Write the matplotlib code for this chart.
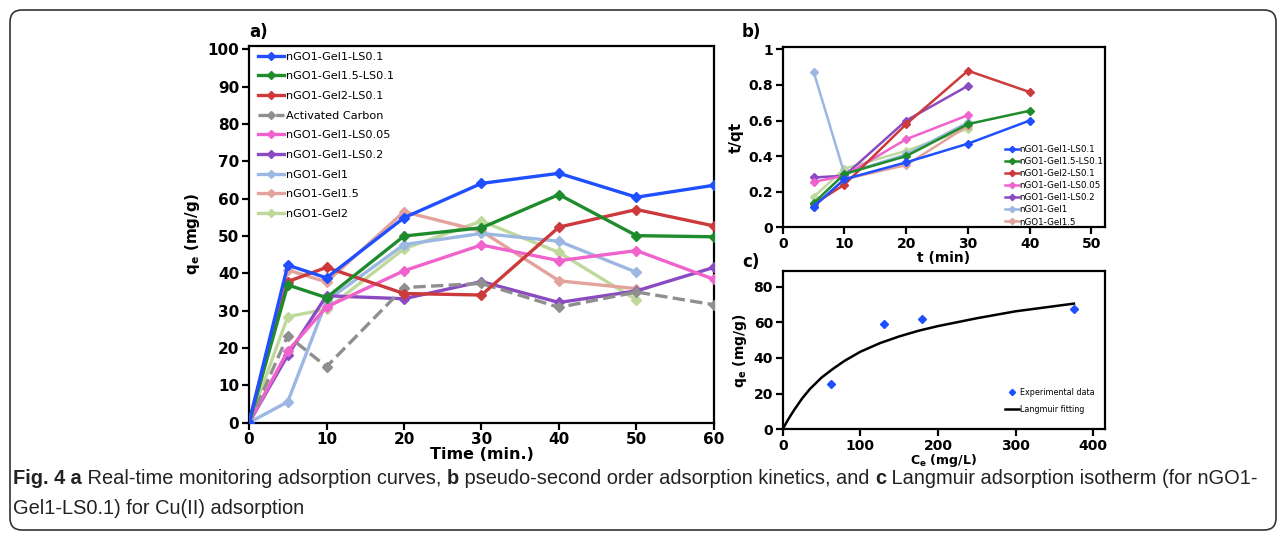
import numpy as np
import matplotlib
matplotlib.use("Agg")
import matplotlib.pyplot as plt
from matplotlib.patches import FancyBboxPatch

plt.rcParams["font.family"] = ["DejaVu Sans"]
plt.rcParams["mathtext.fontset"] = "custom"
plt.rcParams["mathtext.bf"] = "DejaVu Sans:bold"
plt.rcParams["mathtext.rm"] = "DejaVu Sans"

# ---- panel a: real-time adsorption ----
t_a = [0, 5, 10, 20, 30, 40, 50, 60]
t_a_short = [0, 5, 10, 20, 30, 40, 50]
q_gel1_ls01 = [0, 42.2, 38.8, 54.9, 64.1, 66.8, 60.4, 63.6]
q_gel15_ls01 = [0, 36.9, 33.5, 50.0, 52.2, 61.1, 50.1, 49.8]
q_gel2_ls01 = [0, 37.8, 41.6, 34.6, 34.2, 52.4, 57.1, 52.7]
q_carbon = [0, 23.3, 15.0, 36.2, 37.3, 30.9, 35.0, 31.6]
q_gel1_ls005 = [0, 19.2, 31.0, 40.7, 47.6, 43.4, 46.1, 38.4]
q_gel1_ls02 = [0, 18.1, 34.0, 33.2, 37.8, 32.2, 35.3, 41.6]
q_gel1 = [0, 5.6, 32.6, 47.7, 50.7, 48.6, 40.3]
q_gel15 = [0, 40.9, 37.7, 56.5, 51.3, 38.0, 35.9]
q_gel2 = [0, 28.4, 30.4, 46.6, 54.0, 45.6, 32.9]

# ---- panel b: pseudo-second order ----
t_b = [5, 10, 20, 30, 40]
t_b_short = [5, 10, 20, 30]
tq_gel1_ls01 = [0.116, 0.27, 0.365, 0.47, 0.60]
tq_gel15_ls01 = [0.135, 0.30, 0.40, 0.58, 0.655]
tq_gel2_ls01 = [0.13, 0.24, 0.58, 0.88, 0.76]
tq_gel1_ls005 = [0.255, 0.29, 0.495, 0.63]
tq_gel1_ls02 = [0.28, 0.29, 0.60, 0.795]
tq_gel1 = [0.875, 0.30, 0.41, 0.59]
tq_gel15 = [0.115, 0.27, 0.35, 0.57]
tq_gel2 = [0.17, 0.33, 0.43, 0.555]

# ---- panel c: Langmuir isotherm ----
ce_exp = [62, 130, 180, 375]
qe_exp = [25.5, 59.0, 62.0, 67.5]
ce_fit = [0, 5, 10, 15, 25, 35, 50, 65, 80, 100, 125, 150, 175, 200, 250, 300, 375]
qe_fit = [0, 4.0, 7.6, 11.0, 17.3, 22.6, 29.0, 34.0, 38.5, 43.5, 48.3, 52.1, 55.3, 57.9, 62.3, 66.2, 70.5]

names = ["nGO1-Gel1-LS0.1", "nGO1-Gel1.5-LS0.1", "nGO1-Gel2-LS0.1",
         "Activated Carbon", "nGO1-Gel1-LS0.05", "nGO1-Gel1-LS0.2",
         "nGO1-Gel1", "nGO1-Gel1.5", "nGO1-Gel2"]
colors = ["#1f4fff", "#1e8c2c", "#cc3a3c", "#8f8f8f", "#f062cc",
          "#8a4bc2", "#9cb8e2", "#e3a29c", "#bfd99c"]

fig = plt.figure(figsize=(12.81, 5.36), dpi=100)
W, H = 1281, 536

def axes_px(x0, y0, x1, y1):
    return fig.add_axes([x0 / W, 1 - y1 / H, (x1 - x0) / W, (y1 - y0) / H])

def style(ax, fs):
    for s in ax.spines.values():
        s.set_linewidth(1.6)
    ax.tick_params(direction="out", length=5, width=1.6, labelsize=fs,
                   top=False, right=False, pad=2)
    for lab in ax.get_xticklabels() + ax.get_yticklabels():
        lab.set_fontweight("bold")

# panel a
ax = axes_px(249, 46, 714, 422.7)
series_a = [(t_a, q_gel1_ls01), (t_a, q_gel15_ls01), (t_a, q_gel2_ls01),
            (t_a, q_carbon), (t_a, q_gel1_ls005), (t_a, q_gel1_ls02),
            (t_a_short, q_gel1), (t_a_short, q_gel15), (t_a_short, q_gel2)]
for i, (x, y) in enumerate(series_a):
    ls = "--" if i == 3 else "-"
    ax.plot(x, y, ls, color=colors[i], lw=2.4, marker="D", ms=5.5,
            label=names[i], zorder=3 + (8 - i) * 0.1)
ax.set_xlim(0, 60)
ax.set_ylim(0, 100.9)
ax.set_xticks([0, 10, 20, 30, 40, 50, 60])
ax.set_yticks(range(0, 101, 10))
style(ax, 11)
ax.set_xlabel("Time (min.)", fontsize=11.5, fontweight="bold", labelpad=0)
ax.set_ylabel(r"$\mathbf{q_e}$ (mg/g)", fontsize=11, fontweight="bold", labelpad=4)
ax.legend(loc="upper left", bbox_to_anchor=(0.02, 0.985), frameon=False,
          fontsize=8.1, handlelength=2.3, handletextpad=0.15, labelspacing=0.86,
          borderpad=0, borderaxespad=0, markerscale=0.8)
ax.text(0, 1.012, "a)", transform=ax.transAxes, fontsize=12, fontweight="bold",
        va="bottom", ha="left")

# panel b
bx = axes_px(782.7, 46.7, 1105, 227.3)
series_b = [(t_b, tq_gel1_ls01), (t_b, tq_gel15_ls01), (t_b, tq_gel2_ls01),
            (t_b_short, tq_gel1_ls005), (t_b_short, tq_gel1_ls02),
            (t_b_short, tq_gel1), (t_b_short, tq_gel15), (t_b_short, tq_gel2)]
b_cols = [colors[0], colors[1], colors[2], colors[4], colors[5],
          colors[6], colors[7], colors[8]]
b_names = [names[0], names[1], names[2], names[4], names[5],
           names[6], names[7], "_nolegend_"]
for i, (x, y) in enumerate(series_b):
    bx.plot(x, y, "-", color=b_cols[i], lw=1.8, marker="D", ms=4,
            label=b_names[i], zorder=3 + (7 - i) * 0.1)
bx.set_xlim(0, 52.2)
bx.set_ylim(0, 1.015)
bx.set_xticks([0, 10, 20, 30, 40, 50])
bx.set_yticks([0, 0.2, 0.4, 0.6, 0.8, 1])
bx.set_yticklabels(["0", "0.2", "0.4", "0.6", "0.8", "1"])
style(bx, 10)
bx.set_xlabel("t (min)", fontsize=10, fontweight="bold", labelpad=0)
bx.set_ylabel("t/qt", fontsize=11, fontweight="bold", labelpad=3)
bx.legend(loc="upper left", bbox_to_anchor=(0.69, 0.455), frameon=False,
          fontsize=6.3, handlelength=1.6, handletextpad=0.05, labelspacing=0.35,
          borderpad=0, borderaxespad=0, markerscale=0.8)
bx.text(-0.127, 1.03, "b)", transform=bx.transAxes, fontsize=12, fontweight="bold",
        va="bottom", ha="left")

# panel c
cx = axes_px(782.7, 271, 1105, 429.3)
cx.plot(ce_exp, qe_exp, "D", color="#1f4fff", ms=4.5, label="Experimental data", ls="none")
cx.plot(ce_fit, qe_fit, "-", color="black", lw=1.8, label="Langmuir fitting")
cx.set_xlim(0, 415)
cx.set_ylim(0, 88.8)
cx.set_xticks([0, 100, 200, 300, 400])
cx.set_yticks([0, 20, 40, 60, 80])
style(cx, 10)
cx.set_xlabel(r"$\mathbf{C_e}$ (mg/L)", fontsize=9, fontweight="bold", labelpad=-1)
cx.set_ylabel(r"$\mathbf{q_e}$ (mg/g)", fontsize=10, fontweight="bold", labelpad=3)
cx.legend(loc="upper left", bbox_to_anchor=(0.69, 0.26), frameon=False,
          fontsize=5.8, handlelength=1.7, handletextpad=0.2, labelspacing=1.0,
          borderpad=0, borderaxespad=0, markerscale=0.7)
cx.text(-0.127, 1.0, "c)", transform=cx.transAxes, fontsize=12, fontweight="bold",
        va="bottom", ha="left")

# rounded frame
frame = FancyBboxPatch((10, 6), 1266, 520, boxstyle="round,pad=0,rounding_size=12",
                       transform=None, facecolor="none", edgecolor="#333333", lw=1.2)
fig.patches.append(frame)

# caption with bold pieces
cap_family = ["Liberation Sans"]
line1 = [("Fig. 4", "bold"), (" a", "bold"), (" Real-time monitoring adsorption curves, ", "normal"),
         ("b", "bold"), (" pseudo-second order adsorption kinetics, and ", "normal"),
         ("c", "bold"), (" Langmuir adsorption isotherm (for nGO1-", "normal")]
line2 = [("Gel1-LS0.1) for Cu(II) adsorption", "normal")]
renderer = fig.canvas.get_renderer()

def measure(pieces, fs):
    widths = []
    for txt, wt in pieces:
        tt = fig.text(0, 0, txt.replace(" ", "\u00a0"), fontsize=fs, fontweight=wt, family=cap_family)
        widths.append(tt.get_window_extent(renderer).width)
        tt.remove()
    return widths

fs0 = 12
w0 = sum(measure(line1, fs0))
cap_fs = fs0 * (1262 - 13) / w0

for pieces, ypx in [(line1, 479), (line2, 508)]:
    widths = measure(pieces, cap_fs)
    x = 13
    for (txt, wt), w in zip(pieces, widths):
        fig.text(x / W, 1 - ypx / H, txt.replace(" ", "\u00a0"), fontsize=cap_fs,
                 fontweight=wt, family=cap_family, color="#222222", va="center")
        x += w

fig.savefig("out.png", dpi=100)
